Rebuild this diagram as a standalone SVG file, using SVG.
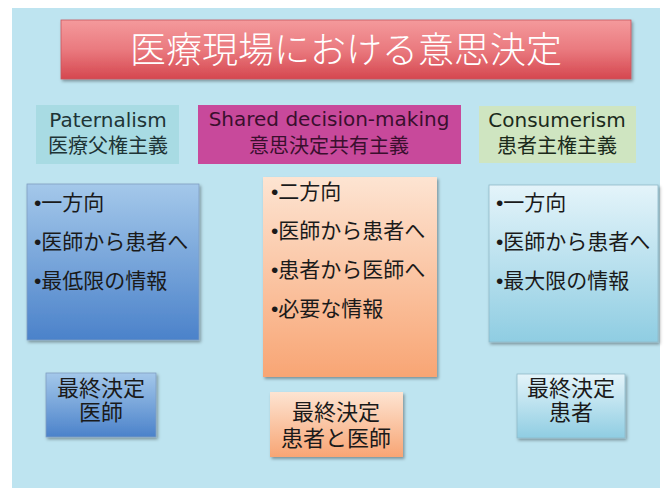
<svg xmlns="http://www.w3.org/2000/svg" width="665" height="488" viewBox="0 0 665 488">
  <style>
    .jp { font-family: "Liberation Sans", "Noto Sans CJK JP", sans-serif; fill: #1a1a1a; }
    .hd { font-family: "DejaVu Sans", "Noto Sans CJK JP", sans-serif; font-size: 20px; text-anchor: middle; }
    .item { font-size: 21px; }
    .fin { font-size: 22px; text-anchor: middle; }
    .shadow { filter: url(#sh); }
  </style>
  <defs>
    <filter id="sh" x="-10%" y="-10%" width="125%" height="130%">
      <feDropShadow dx="1.5" dy="2" stdDeviation="1.5" flood-color="#000" flood-opacity="0.35"/>
    </filter>
    <linearGradient id="gTitle" x1="0" y1="0" x2="0" y2="1">
      <stop offset="0" stop-color="#f49a9c"/>
      <stop offset="0.5" stop-color="#ea7a7f"/>
      <stop offset="1" stop-color="#d5474f"/>
    </linearGradient>
    <linearGradient id="gBlue" x1="0" y1="0" x2="0" y2="1">
      <stop offset="0" stop-color="#a4c8ea"/>
      <stop offset="1" stop-color="#4b82ca"/>
    </linearGradient>
    <linearGradient id="gOrange" x1="0" y1="0" x2="0" y2="1">
      <stop offset="0" stop-color="#fde4d2"/>
      <stop offset="1" stop-color="#f8a574"/>
    </linearGradient>
    <linearGradient id="gLight" x1="0" y1="0" x2="0" y2="1">
      <stop offset="0" stop-color="#e4f4fa"/>
      <stop offset="1" stop-color="#8fcde2"/>
    </linearGradient>
  </defs>

  <rect x="0" y="0" width="665" height="488" fill="#ffffff"/>
  <rect x="12" y="8" width="648" height="480" fill="#bee4f0"/>

  <g id="title">
    <rect class="shadow" x="61" y="20" width="570" height="59" fill="url(#gTitle)" stroke="#c9555c" stroke-width="0.8"/>
    <text x="346" y="63" font-family="Noto Sans CJK JP, sans-serif" font-size="36" font-weight="300" fill="#ffffff" text-anchor="middle">医療現場における意思決定</text>
  </g>

  <g id="paternalism">
    <rect x="36" y="105" width="143" height="59" fill="#a8dbe3"/>
    <text class="hd" x="108" y="127" fill="#1e3436">Paternalism</text>
    <text class="hd" x="108" y="153" fill="#1e3436">医療父権主義</text>
  </g>

  <g id="shared">
    <rect x="198" y="105" width="263" height="59" fill="#c8499b"/>
    <text class="hd" x="329" y="126" fill="#3a0f2e">Shared decision-making</text>
    <text class="hd" x="329" y="153" fill="#3a0f2e">意思決定共有主義</text>
  </g>

  <g id="consumerism">
    <rect x="479" y="106" width="157" height="57" fill="#cfe5c1"/>
    <text class="hd" x="557" y="127" fill="#1b2a1b">Consumerism</text>
    <text class="hd" x="557" y="153" fill="#1b2a1b">患者主権主義</text>
  </g>

  <g id="left-box">
    <rect class="shadow" x="27" y="184" width="172" height="156" fill="url(#gBlue)" stroke="#7f9fc0" stroke-width="0.8"/>
    <text class="jp item" x="34" y="210">•一方向</text>
    <text class="jp item" x="34" y="249">•医師から患者へ</text>
    <text class="jp item" x="34" y="288">•最低限の情報</text>
  </g>

  <g id="middle-box">
    <rect class="shadow" x="263" y="177" width="174" height="200" fill="url(#gOrange)"/>
    <text class="jp item" x="271" y="199">•二方向</text>
    <text class="jp item" x="271" y="238">•医師から患者へ</text>
    <text class="jp item" x="271" y="277">•患者から医師へ</text>
    <text class="jp item" x="271" y="316">•必要な情報</text>
  </g>

  <g id="right-box">
    <rect class="shadow" x="489" y="185" width="169" height="157" fill="url(#gLight)" stroke="#8fb9c8" stroke-width="0.8"/>
    <text class="jp item" x="496" y="210">•一方向</text>
    <text class="jp item" x="496" y="249">•医師から患者へ</text>
    <text class="jp item" x="496" y="288">•最大限の情報</text>
  </g>

  <g id="final-left">
    <rect class="shadow" x="46" y="373" width="110" height="64" fill="url(#gBlue)" stroke="#7f9fc0" stroke-width="0.8"/>
    <text class="jp fin" x="101" y="396">最終決定</text>
    <text class="jp fin" x="101" y="420">医師</text>
  </g>

  <g id="final-middle">
    <rect class="shadow" x="270" y="392" width="133" height="65" fill="url(#gOrange)"/>
    <text class="jp fin" x="336" y="420">最終決定</text>
    <text class="jp fin" x="336" y="446">患者と医師</text>
  </g>

  <g id="final-right">
    <rect class="shadow" x="517" y="374" width="108" height="64" fill="url(#gLight)" stroke="#8fb9c8" stroke-width="0.8"/>
    <text class="jp fin" x="571" y="396">最終決定</text>
    <text class="jp fin" x="571" y="420">患者</text>
  </g>

  <g id="connectors"></g>
</svg>
